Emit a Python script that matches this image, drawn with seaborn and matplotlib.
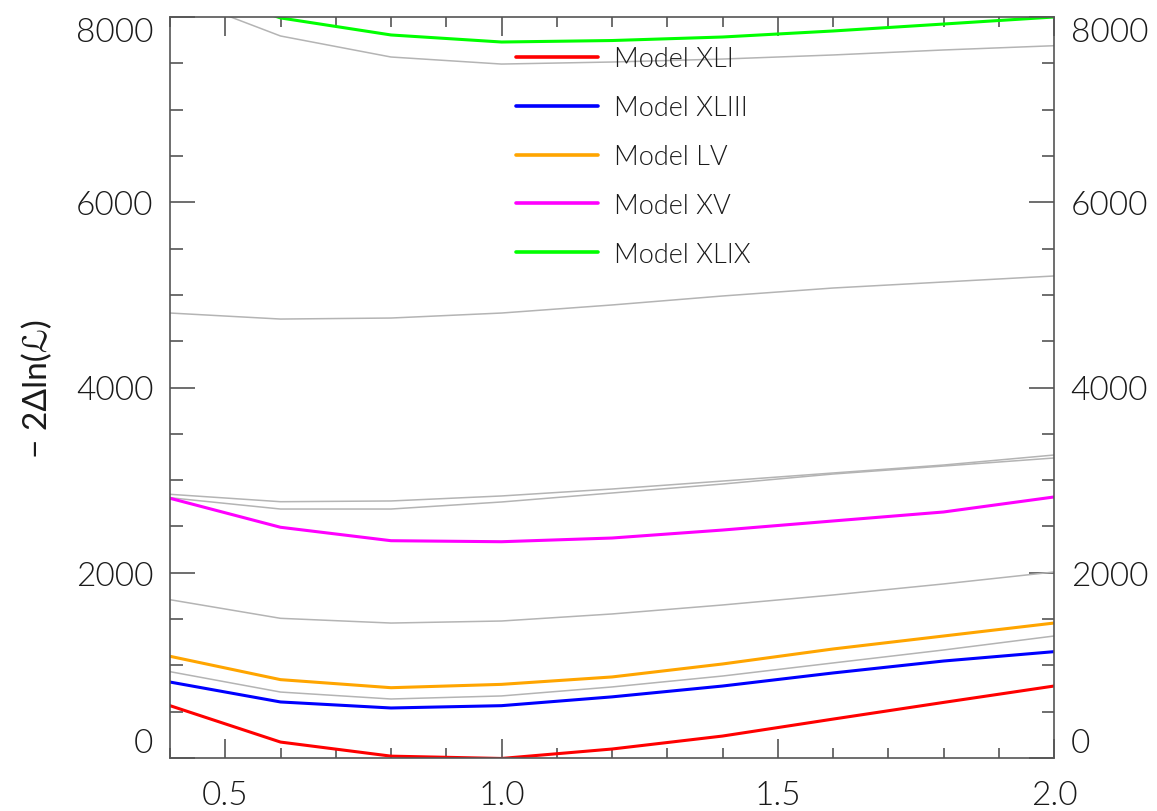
import numpy as np
import pandas as pd
import seaborn as sns
import matplotlib.pyplot as plt
from matplotlib.ticker import MultipleLocator

# x grid shared by every curve
xvals = [0.4, 0.6, 0.8, 1.0, 1.2, 1.4, 1.6, 1.8, 2.0]

# highlighted models
model_names = ["Model XLI", "Model XLIII", "Model LV", "Model XV", "Model XLIX"]
model_colors = ["#ff0000", "#0000ff", "#ffa500", "#ff00ff", "#00ff00"]
xli = [565, 172, 20, -5, 97, 237, 420, 600, 777]
xliii = [820, 605, 540, 565, 660, 777, 918, 1047, 1148]
lv = [1098, 846, 759, 795, 875, 1015, 1177, 1317, 1457]
xv = [2804, 2491, 2346, 2335, 2375, 2461, 2559, 2656, 2818]
xlix = [8400, 7990, 7806, 7730, 7746, 7784, 7849, 7924, 8000]
model_values = [xli, xliii, lv, xv, xlix]

# other models, drawn in grey without legend
grey_a = [932, 712, 637, 670, 767, 885, 1026, 1166, 1317]
grey_b = [1709, 1508, 1457, 1479, 1555, 1652, 1760, 1879, 2008]
grey_c = [2810, 2688, 2688, 2764, 2861, 2958, 3066, 3152, 3239]
grey_d = [2847, 2767, 2775, 2829, 2904, 2990, 3077, 3163, 3271]
grey_e = [4804, 4739, 4750, 4804, 4891, 4988, 5074, 5139, 5204]
grey_f = [8250, 7795, 7568, 7492, 7514, 7546, 7590, 7644, 7690]
grey_values = [grey_a, grey_b, grey_c, grey_d, grey_e, grey_f]

sns.set_theme(style="ticks")
plt.rcParams["font.family"] = ["Lato", "DejaVu Sans"]
plt.rcParams["font.weight"] = 300

fig = plt.figure(figsize=(11.57, 8.12), dpi=100)
ax = fig.add_axes([170 / 1157, 1 - 759 / 812, (1054 - 170) / 1157, (759 - 18) / 812])

for vals in grey_values:
    sns.lineplot(x=xvals, y=vals, color="#b4b4b4", linewidth=1.1, ax=ax)

for name, vals, col in zip(model_names, model_values, model_colors):
    sns.lineplot(x=xvals, y=vals, color=col, linewidth=2.2, label=name, ax=ax)

ax.set_xlim(0.4, 2.0)
ax.set_ylim(0, 8000)
ax.xaxis.set_major_locator(MultipleLocator(0.5))
ax.xaxis.set_minor_locator(MultipleLocator(0.1))
ax.yaxis.set_major_locator(MultipleLocator(2000))
ax.yaxis.set_minor_locator(MultipleLocator(500))
ax.xaxis.set_major_formatter(plt.FuncFormatter(lambda v, p: f"{v:.1f}"))
ax.yaxis.set_major_formatter(plt.FuncFormatter(lambda v, p: f"{v:.0f}"))

spine_col = "#555555"
for s in ax.spines.values():
    s.set_color(spine_col)
    s.set_linewidth(1.2)
    s.set_visible(True)

ax.tick_params(which="both", direction="in", top=True, right=True, labelright=True,
               color=spine_col, width=1.2, labelsize=24, labelcolor="#1a1a1a")
ax.tick_params(axis="y", which="major", length=18, pad=12)
ax.tick_params(axis="y", which="minor", length=9)
ax.tick_params(axis="x", which="major", length=14, pad=16)
ax.tick_params(axis="x", which="minor", length=7)

fig.canvas.draw()
for tick in ax.yaxis.get_major_ticks():
    for lab in (tick.label1, tick.label2):
        txt = lab.get_text()
        if txt == "0":
            lab.set_va("bottom")
        elif txt == "8000":
            lab.set_va("top")

ax.set_xlabel("")
ax.set_ylabel("− 2Δln(ℒ)", fontsize=24, color="#1a1a1a", labelpad=16)

leg = ax.legend(loc="upper left", bbox_to_anchor=(492 / 1157, 1 - 23 / 812),
                bbox_transform=fig.transFigure, frameon=False, fontsize=19.5,
                handlelength=3.0, handletextpad=0.6, labelspacing=0.88)
for text in leg.get_texts():
    text.set_color("#1a1a1a")
for line in leg.get_lines():
    line.set_linewidth(2.6)

fig.savefig("out.png", dpi=100)
